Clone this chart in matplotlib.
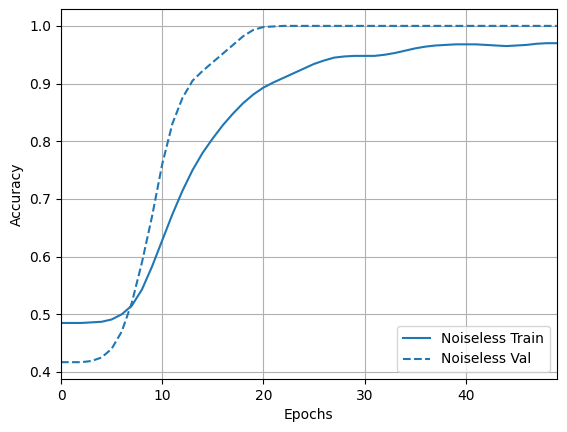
import matplotlib

matplotlib.use("Agg")
import matplotlib.pyplot as plt

epochs = list(range(50))
train_acc = [0.485, 0.485, 0.485, 0.486, 0.487, 0.491, 0.500, 0.515, 0.543, 0.583,
             0.628, 0.673, 0.714, 0.750, 0.780, 0.805, 0.828, 0.848, 0.866, 0.881,
             0.893, 0.902, 0.910, 0.918, 0.926, 0.934, 0.940, 0.945, 0.947, 0.948,
             0.948, 0.948, 0.950, 0.953, 0.957, 0.961, 0.964, 0.966, 0.967, 0.968,
             0.968, 0.968, 0.967, 0.966, 0.965, 0.966, 0.967, 0.969, 0.970, 0.970]
val_acc = [0.417, 0.417, 0.417, 0.419, 0.425, 0.440, 0.470, 0.520, 0.590, 0.670,
           0.760, 0.830, 0.875, 0.905, 0.922, 0.937, 0.952, 0.967, 0.982, 0.993,
           0.998, 0.999, 1.000, 1.000, 1.000, 1.000, 1.000, 1.000, 1.000, 1.000,
           1.000, 1.000, 1.000, 1.000, 1.000, 1.000, 1.000, 1.000, 1.000, 1.000,
           1.000, 1.000, 1.000, 1.000, 1.000, 1.000, 1.000, 1.000, 1.000, 1.000]

fig, ax = plt.subplots(figsize=(5.67, 4.32), dpi=100)
fig.subplots_adjust(left=0.1076, right=0.982, bottom=0.1227, top=0.979)

line, = ax.plot(epochs, train_acc, label="Noiseless Train")
ax.plot(epochs, val_acc, "--", color=line.get_color(), label="Noiseless Val")

ax.set_xlabel("Epochs")
ax.set_ylabel("Accuracy")
ax.set_xlim(0, 49)
ax.grid(True)
ax.legend(loc="lower right")

fig.savefig("out.png", dpi=100)
